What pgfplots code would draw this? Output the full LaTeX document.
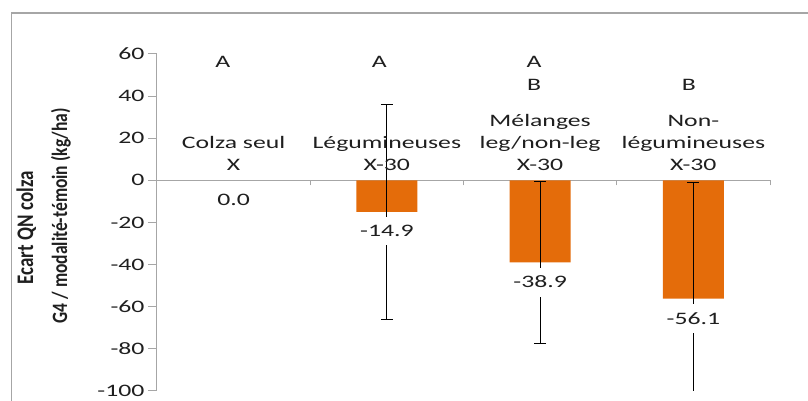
\documentclass[border=0pt]{standalone}
\usepackage{graphicx}
\usepackage{pgfplots}
\pgfplotsset{compat=1.18}
\usepackage{fontspec}
\setmainfont[FakeStretch=1.47]{Carlito}
\newfontfamily\ylfont{Carlito}
\definecolor{barorange}{HTML}{E46C0A}
\definecolor{axgray}{HTML}{A6A6A6}
\definecolor{txt}{HTML}{1F1F1F}
\newcommand{\lblfont}{\fontsize{17.5}{22}\selectfont}
\begin{document}
\begin{tikzpicture}
\useasboundingbox (0pt,0pt) rectangle (808pt,401pt);
\draw[axgray, line width=1.5pt] (11.7pt,-5pt) -- (11.7pt,388pt) -- (815pt,388pt);
\begin{axis}[
  at={(157pt,10pt)}, anchor=south west,
  scale only axis, width=613pt, height=337pt,
  xmin=-0.5, xmax=3.5, ymin=-100, ymax=60,
  axis x line=middle, axis y line=left,
  axis line style={-, draw=axgray, line width=1pt},
  xtick={-0.5,0.5,1.5,2.5,3.5}, xticklabels={},
  ytick={-100,-80,...,60},
  tick align=outside,
  major tick length=9pt,
  xtick style={draw=axgray, line width=1pt, /pgfplots/major tick length=5pt},
  ytick style={draw=axgray, line width=1pt},
  yticklabel style={font=\lblfont, text=txt},
  /pgf/number format/assume math mode=true,
  ylabel={\scalebox{1}[1.25]{\fontsize{19}{36}\selectfont Ecart QN colza}\hspace*{24pt}\\[10pt]\scalebox{1}[1.25]{G4 / modalité-témoin (kg/ha)}},
  ylabel style={at={(axis description cs:-0.185,0.52)}, anchor=center,
    align=center, font=\ylfont\bfseries\fontsize{17.5}{24}\selectfont, text=txt},
  clip=true,
]
\addplot[ybar, bar width=61pt, fill=barorange, draw=none,
  error bars/.cd, y dir=both, y explicit,
  error bar style={black, line width=1pt},
  error mark options={rotate=90, mark size=6pt, black, line width=1pt}]
  coordinates {(1,-14.9) +- (0,51) (2,-38.9) +- (0,38.5) (3,-56.1) +- (0,55)};
\addplot[draw=none, mark=none, nodes near coords={\pgfplotspointmeta},
  point meta=explicit symbolic,
  nodes near coords style={anchor=north, fill=white, inner xsep=1pt,
    inner ysep=8.5pt, yshift=-5pt, font=\lblfont, text=txt}]
  coordinates {(0,0)[0.0] (1,-14.9)[-14.9] (2,-38.9)[-38.9] (3,-56.1)[-56.1]};
\node[anchor=south, align=center, inner sep=0pt, font=\lblfont, text=txt] at (axis cs:0,0) [yshift=9.5pt] {Colza seul\\X};
\node[anchor=south, align=center, inner sep=0pt, font=\lblfont, text=txt] at (axis cs:1,0) [yshift=9.5pt] {Légumineuses\\X-30};
\node[anchor=south, align=center, inner sep=0pt, font=\lblfont, text=txt] at (axis cs:2,0) [yshift=9.5pt] {Mélanges\\leg/non-leg\\X-30};
\node[anchor=south, align=center, inner sep=0pt, font=\lblfont, text=txt] at (axis cs:3,0) [yshift=9.5pt] {Non-\\légumineuses\\X-30};
\node[font=\lblfont, text=txt] at (axis cs:-0.07,56.2) {A};
\node[font=\lblfont, text=txt] at (axis cs:0.95,56.2) {A};
\node[font=\lblfont, text=txt] at (axis cs:1.96,56.2) {A};
\node[font=\lblfont, text=txt] at (axis cs:1.96,45.1) {B};
\node[font=\lblfont, text=txt] at (axis cs:2.97,45.1) {B};
\end{axis}
\end{tikzpicture}
\end{document}
